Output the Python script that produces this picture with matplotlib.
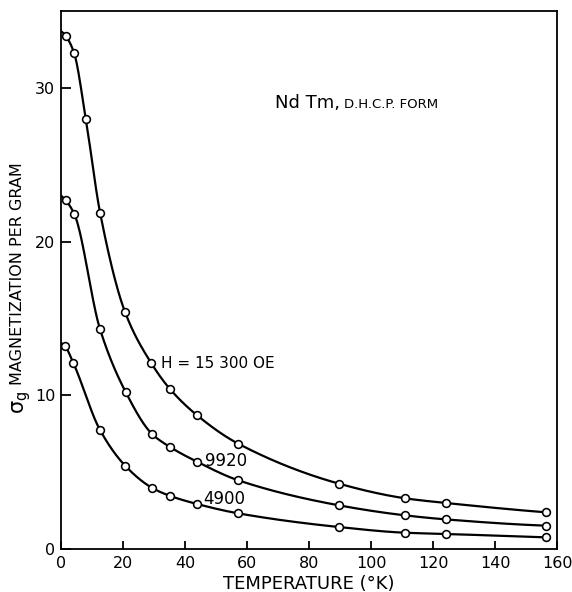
import numpy as np
import matplotlib
matplotlib.use("Agg")
import matplotlib.pyplot as plt

# ---- data ----
temp = [1.5, 4.2, 8.0, 12.6, 20.7, 29.1, 35.2, 43.9, 57.2, 89.7, 111.0, 124.0, 156.3]
sigma_15300 = [33.4, 32.3, 28.0, 21.9, 15.4, 12.1, 10.4, 8.7, 6.85, 4.25, 3.3, 3.0, 2.39]

temp_b = [1.5, 4.3, 12.6, 20.9, 29.3, 35.0, 43.9, 57.2, 89.7, 111.0, 124.0, 156.3]
sigma_9920 = [22.7, 21.8, 14.3, 10.2, 7.5, 6.66, 5.68, 4.47, 2.84, 2.19, 1.93, 1.52]

temp_c = [1.3, 4.0, 12.6, 20.8, 29.3, 35.0, 43.9, 57.2, 89.7, 111.0, 124.0, 156.3]
sigma_4900 = [13.2, 12.1, 7.74, 5.4, 3.99, 3.47, 2.93, 2.32, 1.43, 1.06, 0.98, 0.76]

# curve values where the drawn curves meet the T = 0 axis
sigma_at_zero = [33.7, 23.0, 13.4]

x_ticks = [0, 20, 40, 60, 80, 100, 120, 140, 160]
y_ticks = [0, 10, 20, 30]


def pchip(x, y, xn):
    x = np.asarray(x, float)
    y = np.asarray(y, float)
    h = np.diff(x)
    d = np.diff(y) / h
    n = len(x)
    m = np.zeros(n)
    for k in range(1, n - 1):
        if d[k - 1] * d[k] <= 0:
            m[k] = 0.0
        else:
            w1 = 2 * h[k] + h[k - 1]
            w2 = h[k] + 2 * h[k - 1]
            m[k] = (w1 + w2) / (w1 / d[k - 1] + w2 / d[k])

    def end(h0, h1, d0, d1):
        mm = ((2 * h0 + h1) * d0 - h0 * d1) / (h0 + h1)
        if np.sign(mm) != np.sign(d0):
            mm = 0.0
        elif np.sign(d0) != np.sign(d1) and abs(mm) > abs(3 * d0):
            mm = 3 * d0
        return mm

    m[0] = end(h[0], h[1], d[0], d[1])
    m[-1] = end(h[-1], h[-2], d[-1], d[-2])
    idx = np.clip(np.searchsorted(x, xn) - 1, 0, n - 2)
    t = (xn - x[idx]) / h[idx]
    h00 = 2 * t**3 - 3 * t**2 + 1
    h10 = t**3 - 2 * t**2 + t
    h01 = -2 * t**3 + 3 * t**2
    h11 = t**3 - t**2
    return (h00 * y[idx] + h10 * h[idx] * m[idx]
            + h01 * y[idx + 1] + h11 * h[idx] * m[idx + 1])


fig = plt.figure(figsize=(5.72, 5.92), dpi=100)
ax = fig.add_axes([0.1066, 0.0726, 0.8675, 0.9084])

series = [(temp, sigma_15300, sigma_at_zero[0]),
          (temp_b, sigma_9920, sigma_at_zero[1]),
          (temp_c, sigma_4900, sigma_at_zero[2])]

for tx, sy, s0 in series:
    xs = [0.0] + list(tx)
    ys = [s0] + list(sy)
    xn = np.linspace(0, xs[-1], 800)
    ax.plot(xn, pchip(xs, ys, xn), color="black", lw=1.6, solid_capstyle="round", zorder=2)
    ax.plot(tx, sy, linestyle="none", marker="o", markersize=5.6,
            markerfacecolor="white", markeredgecolor="black", markeredgewidth=1.15, zorder=3)

ax.set_xlim(0, 160)
ax.set_ylim(0, 35)
ax.set_xticks(x_ticks)
ax.set_yticks(y_ticks)
ax.set_xticklabels([str(v) for v in x_ticks])
ax.set_yticklabels([str(v) for v in y_ticks])
ax.tick_params(axis="x", direction="in", length=6, width=1.3, pad=5, labelsize=11.5)
ax.tick_params(axis="y", direction="in", length=7.5, width=1.3, pad=4, labelsize=11.5)
for s in ax.spines.values():
    s.set_linewidth(1.3)

ax.set_xlabel("TEMPERATURE (°K)", fontsize=13, labelpad=3)
ax.text(-0.088, 0.513, "MAGNETIZATION PER GRAM", transform=ax.transAxes,
        rotation=90, ha="center", va="center", fontsize=11.5)
ax.text(-0.080, 0.272, r"σ$_{\rm g}$", transform=ax.transAxes,
        rotation=90, ha="center", va="center", fontsize=15)

t1 = ax.text(68.9, 29.0, "Nd Tm,", fontsize=13, ha="left", va="center")
ax.annotate("D.H.C.P. FORM", xy=(1, 0.42), xycoords=t1, xytext=(3, 0),
            textcoords="offset points", fontsize=9.5, ha="left", va="center")
ax.text(32.3, 12.1, "H = 15 300 OE", fontsize=11, ha="left", va="center")
ax.text(46.4, 5.75, "9920", fontsize=12, ha="left", va="center")
ax.text(46.0, 3.25, "4900", fontsize=12, ha="left", va="center")

fig.savefig("out.png", dpi=100)
